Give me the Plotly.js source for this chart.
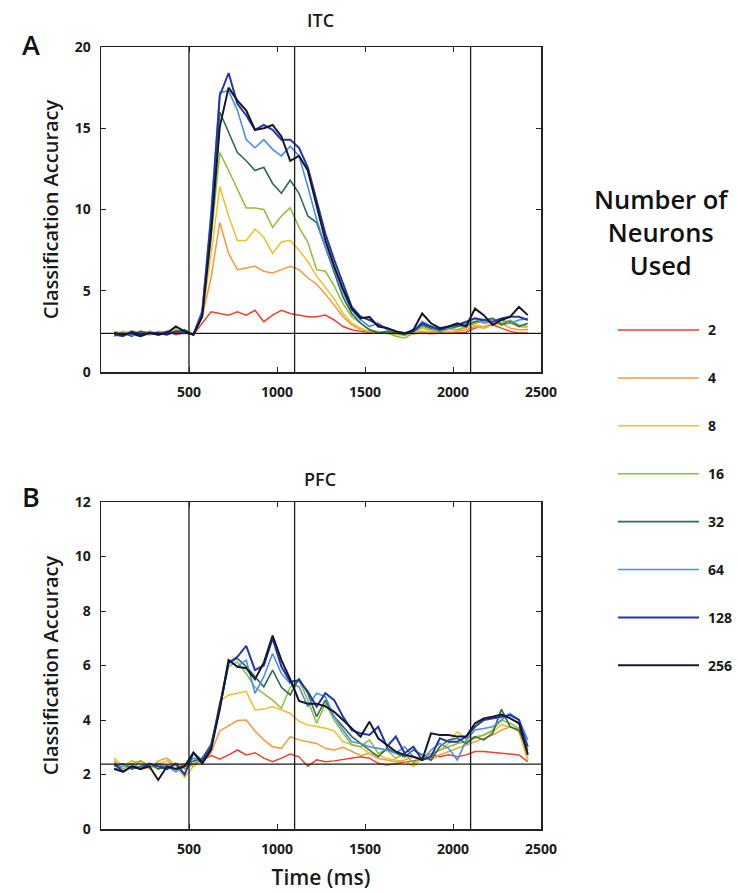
<!DOCTYPE html>
<html>
<head>
<meta charset="utf-8">
<script src="https://cdn.plot.ly/plotly-3.0.1.min.js"></script>
<style>html,body{margin:0;padding:0;background:#fff;}#chart{width:738px;height:893px;}</style>
</head>
<body>
<div id="chart"></div>
<script>
// ---- data ----
const times = [75,125,175,225,275,325,375,425,475,525,575,625,675,725,775,825,875,925,975,1025,1075,1125,1175,1225,1275,1325,1375,1425,1475,1525,1575,1625,1675,1725,1775,1825,1875,1925,1975,2025,2075,2125,2175,2225,2275,2325,2375,2425];
const neuronCounts = ["2","4","8","16","32","64","128","256"];
const eventTimes = [500,1100,2100];
const chanceLevel = 2.38;
const xTickVals = [500,1000,1500,2000,2500];
const itcYTicks = [0,5,10,15,20];
const pfcYTicks = [0,2,4,6,8,10,12];

const itc_2   = [2.4,2.3,2.4,2.5,2.3,2.4,2.5,2.3,2.4,2.3,3.0,3.7,3.6,3.5,3.7,3.5,3.8,3.1,3.5,3.8,3.6,3.5,3.4,3.4,3.5,3.2,2.8,2.6,2.5,2.45,2.4,2.4,2.35,2.3,2.35,2.4,2.35,2.4,2.45,2.4,2.45,2.7,2.8,2.9,2.7,2.5,2.4,2.4];
const itc_4   = [2.5,2.4,2.3,2.5,2.4,2.3,2.4,2.6,2.4,2.3,3.4,5.8,9.2,7.3,6.3,6.4,6.5,6.2,6.1,6.3,6.5,6.3,5.8,5.4,4.8,4.1,3.4,2.9,2.6,2.5,2.45,2.4,2.35,2.3,2.4,2.5,2.4,2.5,2.4,2.5,2.6,2.8,2.7,2.9,3.0,2.7,2.6,2.6];
const itc_8   = [2.3,2.5,2.4,2.3,2.5,2.4,2.3,2.7,2.4,2.3,3.5,7.2,11.4,9.6,8.1,8.1,8.8,8.3,7.3,8.0,8.1,7.5,6.8,5.9,5.2,4.5,3.6,3.0,2.7,2.5,2.4,2.4,2.3,2.3,2.4,2.7,2.5,2.5,2.6,2.6,2.7,2.9,2.8,3.0,2.9,3.0,2.8,2.7];
const itc_16  = [2.4,2.3,2.5,2.4,2.3,2.5,2.4,2.4,2.5,2.3,3.6,8.2,13.5,12.4,11.2,10.1,10.1,10.0,8.9,9.6,10.1,8.9,8.0,6.3,6.2,5.3,4.2,3.4,3.0,2.6,2.5,2.4,2.2,2.1,2.4,2.8,2.6,2.5,2.7,2.6,2.8,3.0,3.1,3.3,3.0,3.2,2.9,2.8];
const itc_32  = [2.3,2.4,2.2,2.5,2.4,2.3,2.5,2.4,2.6,2.3,3.7,9.0,16.0,14.7,13.5,13.0,12.4,12.6,11.6,11.0,11.8,11.0,9.6,9.2,7.7,6.1,4.6,3.6,3.0,2.6,2.4,2.5,2.4,2.3,2.5,2.9,2.7,2.6,2.7,2.8,2.9,3.1,3.2,3.3,2.9,3.1,2.8,3.0];
const itc_64  = [2.2,2.4,2.3,2.2,2.5,2.3,2.4,2.5,2.4,2.3,3.8,9.8,17.2,17.3,16.1,14.3,13.8,14.3,13.7,13.3,13.9,13.3,11.4,9.4,7.7,6.3,4.9,3.8,3.2,2.8,3.0,2.6,2.5,2.4,2.5,3.1,2.8,2.5,2.7,2.9,3.0,3.3,3.0,3.1,3.2,3.0,3.2,3.3];
const itc_128 = [2.3,2.2,2.5,2.3,2.4,2.4,2.3,2.5,2.5,2.3,3.6,9.4,17.0,18.4,16.5,15.8,14.9,15.2,14.9,14.3,14.3,13.8,12.6,10.6,8.5,6.9,5.5,4.0,3.4,3.2,2.9,2.7,2.5,2.4,2.5,3.0,2.8,2.6,2.8,2.9,3.1,3.3,3.2,3.1,3.3,3.4,3.4,3.2];
const itc_256 = [2.4,2.3,2.4,2.2,2.4,2.3,2.4,2.8,2.5,2.3,3.4,8.5,15.1,17.5,16.7,16.1,14.9,15.0,15.2,14.5,13.0,13.3,12.4,10.2,8.1,6.5,5.1,3.9,3.3,3.4,2.8,2.7,2.5,2.35,2.6,3.6,3.0,2.7,2.8,3.0,2.8,3.9,3.5,2.9,3.2,3.4,4.0,3.5];

const pfc_2   = [2.3,2.4,2.2,2.5,2.3,2.4,2.2,2.4,2.3,2.4,2.5,2.7,2.56,2.72,2.9,2.72,2.8,2.6,2.47,2.6,2.75,2.65,2.3,2.54,2.47,2.5,2.55,2.6,2.65,2.6,2.41,2.35,2.4,2.45,2.5,2.55,2.72,2.65,2.72,2.65,2.72,2.84,2.84,2.8,2.78,2.75,2.72,2.47];
const pfc_4   = [2.4,2.3,2.5,2.4,2.2,2.5,2.6,2.3,2.4,2.3,2.5,2.8,3.6,3.78,3.98,4.0,3.6,3.27,3.02,2.96,3.39,3.27,3.2,3.14,2.96,2.9,3.0,2.85,2.7,2.78,2.59,2.53,2.47,2.53,2.65,2.59,2.53,2.72,2.84,2.96,3.08,3.2,3.33,3.45,3.63,3.75,3.57,2.53];
const pfc_8   = [2.6,2.3,2.5,2.4,2.2,2.4,2.5,2.3,1.9,2.3,2.5,3.0,4.7,4.92,4.98,5.05,4.37,4.4,4.49,4.37,4.25,3.95,3.82,3.76,3.7,3.6,3.2,3.1,3.02,2.78,2.72,2.59,2.53,2.47,2.29,2.59,2.7,2.9,3.14,3.57,3.3,3.39,3.45,3.57,3.82,3.75,3.63,2.53];
const pfc_16  = [2.5,2.2,2.4,2.5,2.3,2.4,2.3,2.4,2.2,2.4,2.6,3.0,4.5,5.96,6.13,5.7,5.2,4.98,4.73,4.43,5.2,5.46,4.73,3.88,4.61,4.0,3.51,3.08,3.02,3.27,2.78,2.9,2.59,2.78,2.41,2.65,2.78,2.9,3.02,3.14,3.2,3.33,3.45,3.63,4.0,3.88,3.69,2.78];
const pfc_32  = [2.3,2.4,2.2,2.3,2.4,2.2,2.3,2.2,2.3,2.5,2.6,3.1,4.4,6.08,6.26,5.96,5.59,5.22,5.83,5.2,4.92,5.53,4.98,4.12,4.73,4.12,3.76,3.39,3.14,2.9,2.65,2.96,2.78,2.65,2.9,2.72,2.53,3.02,3.27,3.33,3.14,3.39,3.27,3.51,4.39,3.75,3.63,2.9];
const pfc_64  = [2.2,2.3,2.4,2.2,2.3,2.4,2.3,2.1,2.3,2.6,2.5,3.0,4.5,6.2,5.96,6.2,4.98,5.59,6.44,5.7,5.34,5.22,4.49,4.98,4.86,4.12,3.63,3.2,3.14,3.02,2.96,2.9,2.78,3.02,2.65,2.53,2.9,3.14,2.96,2.53,3.27,3.63,3.69,3.75,4.0,4.24,4.0,3.27];
const pfc_128 = [2.4,2.1,2.3,2.2,2.4,2.3,2.2,2.4,2.0,2.8,2.5,3.0,4.5,6.1,6.32,6.72,5.83,6.0,6.99,5.96,5.4,5.46,5.04,4.49,4.98,4.73,4.12,3.63,3.51,3.45,3.75,3.02,3.39,2.78,3.02,2.53,2.65,3.33,3.2,3.2,3.39,3.75,4.0,4.06,4.12,4.18,4.0,3.02];
const pfc_256 = [2.2,2.1,2.3,2.2,2.3,1.8,2.3,2.2,2.3,2.8,2.4,2.9,4.4,6.2,5.95,5.9,5.5,6.1,7.1,6.2,5.5,4.7,4.6,4.6,4.5,4.3,4.0,3.7,3.39,3.94,3.33,3.08,2.84,2.72,2.65,2.53,3.51,3.45,3.45,3.39,3.39,3.88,4.06,4.12,4.2,4.06,3.88,2.72];

const itcSeries = [itc_2,itc_4,itc_8,itc_16,itc_32,itc_64,itc_128,itc_256];
const pfcSeries = [pfc_2,pfc_4,pfc_8,pfc_16,pfc_32,pfc_64,pfc_128,pfc_256];

// ---- styles ----
const colors = ["#e8432f","#f29a3c","#efbf2a","#8dbd3c","#2e6d4c","#4a90e0","#2335b0","#15182a"];
const widths = [1.5,1.5,1.5,1.5,1.6,1.6,2,2];

const W = 738, H = 893;
const plotL = 101, plotR = 541, plotT = 47, plotB = 829;
const topBottomPx = 372, botTopPx = 502;
const px2x = p => (p - plotL) / (plotR - plotL);
const px2y = p => (plotB - p) / (plotB - plotT);
const FAM = 'Open Sans, sans-serif';

const traces = [];
itcSeries.forEach((ys, i) => traces.push({
  type: 'scatter', mode: 'lines', x: times, y: ys, xaxis: 'x', yaxis: 'y',
  name: neuronCounts[i], showlegend: false,
  line: {color: colors[i], width: widths[i]}, hoverinfo: 'skip'
}));
pfcSeries.forEach((ys, i) => traces.push({
  type: 'scatter', mode: 'lines', x: times, y: ys, xaxis: 'x2', yaxis: 'y2',
  name: neuronCounts[i], showlegend: false,
  line: {color: colors[i], width: widths[i]}, hoverinfo: 'skip'
}));

const tickFont = {family: FAM, size: 14, color: '#1a1a1a', weight: 'bold'};
const titleFont = {family: FAM, size: 20, color: '#1a1a1a', weight: 600};

function xAxis(anchor, showTitle) {
  const a = {
    domain: [0, 1], anchor: anchor, range: [0, 2500],
    tickvals: xTickVals, ticks: 'inside', ticklen: 5, tickcolor: '#222',
    showline: true, linecolor: '#222', linewidth: 1.5, mirror: 'ticks',
    showgrid: false, zeroline: false, tickfont: tickFont, ticklabelstandoff: 7
  };
  if (showTitle) a.title = {text: 'Time (ms)', font: {family: FAM, size: 21, color: '#1a1a1a', weight: 600}, standoff: 13};
  return a;
}
function yAxis(anchor, domain, range, tv) {
  return {
    domain: domain, anchor: anchor, range: range, tickvals: tv,
    ticks: 'inside', ticklen: 5, tickcolor: '#222',
    showline: true, linecolor: '#222', linewidth: 1.5, mirror: 'ticks',
    showgrid: false, zeroline: false, tickfont: tickFont, ticklabelstandoff: 6,
    title: {text: 'Classification Accuracy', font: titleFont, standoff: 10}
  };
}

const shapes = [];
[['x','y'],['x2','y2']].forEach(([xa, ya]) => {
  eventTimes.forEach(t => shapes.push({
    type: 'line', xref: xa, yref: ya + ' domain', x0: t, x1: t, y0: 0, y1: 1,
    line: {color: '#1a1a1a', width: 1.3}
  }));
  shapes.push({
    type: 'line', xref: xa + ' domain', yref: ya, x0: 0, x1: 1, y0: chanceLevel, y1: chanceLevel,
    line: {color: '#1a1a1a', width: 1.3}
  });
});

function ann(text, px, py, font, extra) {
  return Object.assign({text: text, x: px2x(px), y: px2y(py), xref: 'paper', yref: 'paper',
    xanchor: 'center', yanchor: 'middle', showarrow: false, font: font}, extra || {});
}

const annotations = [
  ann('ITC', 320, 20, {family: FAM, size: 18, color: '#1a1a1a', weight: 600}),
  ann('PFC', 320, 479, {family: FAM, size: 18, color: '#1a1a1a', weight: 600}),
  ann('A', 31, 44, {family: FAM, size: 27, color: '#111', weight: 600}),
  ann('B', 31, 496, {family: FAM, size: 27, color: '#111', weight: 600}),
  ann('Number of<br>Neurons<br>Used', 661, 232, {family: FAM, size: 25.5, color: '#111', weight: 600}, {align: 'center'})
];

// legend drawn as samples in paper space
neuronCounts.forEach((lab, i) => {
  const py = 330 + 47.9 * i;
  shapes.push({type: 'line', xref: 'paper', yref: 'paper',
    x0: px2x(618), x1: px2x(699), y0: px2y(py), y1: px2y(py),
    line: {color: colors[i], width: widths[i]}});
  annotations.push(ann(lab, 706, py, {family: FAM, size: 14, color: '#1a1a1a', weight: 'bold'}, {xanchor: 'left'}));
});

const layout = {
  width: W, height: H,
  margin: {l: plotL, r: W - plotR, t: plotT, b: H - plotB},
  paper_bgcolor: '#fff', plot_bgcolor: '#fff', showlegend: false,
  xaxis: xAxis('y', false),
  yaxis: yAxis('x', [px2y(topBottomPx), 1], [0, 20], itcYTicks),
  xaxis2: xAxis('y2', true),
  yaxis2: yAxis('x2', [0, px2y(botTopPx)], [0, 12], pfcYTicks),
  shapes: shapes, annotations: annotations
};

Plotly.newPlot('chart', traces, layout, {displayModeBar: false, staticPlot: true});
</script>
</body>
</html>
